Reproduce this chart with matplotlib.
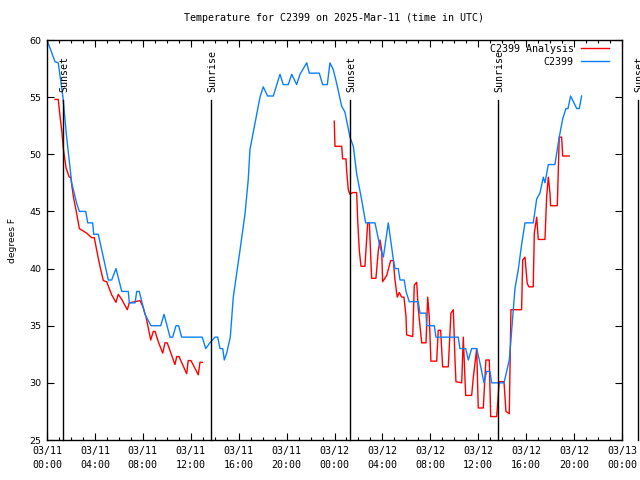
import numpy as np
import matplotlib
matplotlib.use("Agg")
import matplotlib.pyplot as plt

# hours since 2025-03-11 00:00 UTC
obs_hours = [0.0, 0.67, 0.94, 1.31, 1.64, 2.06, 2.48, 2.70, 3.23, 3.40, 3.81, 3.90, 4.28,
             4.70, 5.12, 5.40, 5.76, 6.24, 6.79, 6.87, 7.35, 7.49, 7.70, 8.18, 8.68, 9.49,
             9.77, 10.27, 10.49, 10.77, 10.99, 11.24, 12.96, 13.25, 13.60, 14.02, 14.25,
             14.44, 14.67, 14.80, 15.0, 15.30, 15.55, 16.11, 16.53, 16.80, 16.94, 17.36,
             17.78, 18.05, 18.42, 18.89, 19.45, 19.72, 20.14, 20.43, 20.84, 21.12, 21.68,
             21.90, 22.73, 23.01, 23.40, 23.62, 23.90, 24.18, 24.60, 24.87, 25.29, 25.57,
             25.85, 26.27, 26.60, 27.38, 27.80, 28.08, 28.49, 28.91, 29.05, 29.32, 29.47,
             29.82, 29.97, 30.24, 30.99, 31.14, 31.64, 31.69, 32.33, 32.47, 34.33, 34.47,
             34.95, 35.17, 35.45, 35.87, 36.09, 36.48, 36.70, 36.98, 37.12, 38.15, 38.37,
             38.59, 38.79, 39.07, 39.34, 39.62, 39.90, 40.59, 40.88, 41.15, 41.43, 41.57,
             41.85, 42.40, 42.76, 43.05, 43.32, 43.49, 43.71, 44.22, 44.43, 44.63]
obs_temp = [60.0, 58.1, 58.0, 55.2, 51.5, 47.5, 45.7, 45.0, 45.0, 44.0, 44.0, 43.0, 43.0,
            41.0, 39.0, 39.0, 40.0, 38.0, 38.0, 37.0, 37.0, 38.0, 38.0, 36.0, 35.0, 35.0,
            36.0, 34.0, 34.0, 35.0, 35.0, 34.0, 34.0, 33.0, 33.5, 34.0, 34.0,
            33.0, 33.0, 32.0, 32.6, 34.0, 37.5, 41.6, 44.8, 47.8, 50.4, 52.7,
            55.0, 55.9, 55.1, 55.1, 57.0, 56.1, 56.1, 57.0, 56.1, 57.0, 58.0,
            57.1, 57.1, 56.1, 56.1, 58.0, 57.4, 56.2, 54.2, 53.7, 51.5, 50.7,
            48.3, 46.0, 44.0, 44.0, 41.9, 41.0, 44.0, 40.8, 40.0, 40.0, 39.0,
            39.0, 38.0, 37.1, 37.1, 36.1, 36.1, 35.0, 35.0, 34.0, 34.0, 33.0,
            33.0, 32.0, 33.0, 33.0, 32.0, 30.0, 31.0, 31.0, 30.0, 30.0, 31.0,
            32.0, 34.6, 38.3, 39.9, 42.1, 44.0, 44.0, 46.1, 46.6, 48.0, 47.5,
            49.1, 49.1, 51.5, 53.1, 54.0, 54.0, 55.1, 54.0, 54.0, 55.1]

ana_hours = [0.67, 0.94, 1.09, 1.23, 1.36, 1.59, 1.86, 1.98, 2.20, 2.48, 2.70, 3.31, 3.73,
             3.95, 4.15, 4.42, 4.70, 4.98, 5.40, 5.76, 5.95, 6.24, 6.70, 6.87, 7.35, 7.76,
             7.99, 8.26, 8.66, 8.87, 9.02, 9.29, 9.66, 9.85, 10.04, 10.68, 10.83, 11.02,
             11.66, 11.79, 12.02, 12.63, 12.77, 12.96, 18.0,
             23.98, 24.04, 24.60, 24.68, 24.96, 25.02, 25.15, 25.29, 25.52, 25.85, 25.94,
             26.07, 26.21, 26.54, 26.77, 26.91, 27.10, 27.46, 27.66, 27.80, 27.94, 28.02,
             28.36, 28.49, 28.69, 28.91, 29.05, 29.24, 29.41, 29.61, 29.80, 29.97, 30.02,
             30.53, 30.66, 30.86, 30.99, 31.28, 31.64, 31.69, 31.78, 31.91, 32.05, 32.53,
             32.66, 32.86, 33.03, 33.50, 33.72, 33.92, 34.06, 34.14, 34.62, 34.75, 34.95,
             35.45, 35.58, 35.87, 36.00, 36.42, 36.64, 36.92, 37.04, 37.54, 37.75, 38.15,
             38.31, 38.59, 38.73, 39.62, 39.71, 39.90, 40.09, 40.23, 40.59, 40.68, 40.88,
             41.01, 41.57, 41.71, 41.85, 41.99, 42.04, 42.60, 42.68, 42.76, 42.96, 43.05,
             43.60]
ana_temp = [54.8, 54.8, 53.3, 52.1, 50.5, 48.8, 48.0, 48.0, 46.3, 44.8, 43.5, 43.1, 42.7,
            42.7, 41.6, 40.2, 38.95, 38.85, 37.7, 37.05, 37.75, 37.3, 36.4, 37.0, 37.1, 37.2,
            36.7, 35.8, 33.75, 34.5, 34.5, 33.6, 32.6, 33.5, 33.5, 31.6, 32.3, 32.3,
            30.8, 31.95, 31.95, 30.7, 31.8, 31.8, np.nan,
            52.9, 50.7, 50.7, 49.6, 49.6, 48.5, 46.9, 46.5, 46.65, 46.65, 44.1,
            41.6, 40.2, 40.2, 44.0, 44.0, 39.15, 39.15, 41.6, 42.5, 41.6, 38.85,
            39.4, 39.9, 40.7, 40.7, 39.0, 37.5, 37.9, 37.5, 37.5, 35.8, 34.2,
            34.05, 38.55, 38.8, 36.5, 33.5, 33.5, 35.05, 37.5, 35.8, 31.9, 31.9,
            34.6, 34.6, 31.4, 31.4, 36.1, 36.4, 32.0, 30.1, 30.0, 34.0, 28.9,
            28.9, 30.4, 33.0, 27.8, 27.8, 32.0, 32.0, 27.05, 27.05, 30.1, 30.1,
            27.5, 27.3, 36.4, 36.4, 40.75, 41.0, 38.7, 38.4, 38.4, 43.1, 44.5,
            42.55, 42.55, 46.3, 48.0, 46.6, 45.5, 45.5, 48.5, 51.5, 51.5, 49.85,
            49.85]

sun_hours = [1.34, 13.70, 25.30, 37.65, 49.33]
sun_labels = ["Sunset", "Sunrise", "Sunset", "Sunrise", "Sunset"]

tick_hours = list(range(0, 49, 4))
tick_labels = ["03/11\n00:00", "03/11\n04:00", "03/11\n08:00", "03/11\n12:00",
               "03/11\n16:00", "03/11\n20:00", "03/12\n00:00", "03/12\n04:00",
               "03/12\n08:00", "03/12\n12:00", "03/12\n16:00", "03/12\n20:00",
               "03/13\n00:00"]

plt.rcParams["font.family"] = ["DejaVu Sans Mono"]
plt.rcParams["font.size"] = 7.2

fig = plt.figure(figsize=(6.4, 4.8), dpi=100)
ax = fig.add_axes([47 / 640, 40 / 480, 575 / 640, 400 / 480])

ax.plot(ana_hours, ana_temp, color="#ff0000", linewidth=1.0, label="C2399 Analysis")
ax.plot(obs_hours, obs_temp, color="#0a80ff", linewidth=1.0, label="C2399")

for h, lab in zip(sun_hours, sun_labels):
    ax.plot([h, h], [25, 54.75], color="black", linewidth=1.0, clip_on=False)
    ax.text(h + 0.1, 55.45, lab, rotation=90, ha="center", va="bottom",
            clip_on=False)

ax.set_xlim(0, 48)
ax.set_ylim(25, 60)
ax.set_xticks(tick_hours)
ax.set_xticklabels(tick_labels, linespacing=1.6)
ax.set_xticks(range(0, 49), minor=True)
ax.set_yticks(range(25, 61, 5))
for lab in ax.get_yticklabels():
    lab.set_fontfamily("DejaVu Sans")
    lab.set_fontsize(6.8)
ax.tick_params(which="both", direction="in", top=True, right=True, width=0.8)
ax.tick_params(which="major", length=5, pad=4)
ax.tick_params(which="minor", length=2.5)
for s in ax.spines.values():
    s.set_linewidth(1.0)

ax.set_ylabel("degrees F", labelpad=9, fontfamily="DejaVu Sans", fontsize=6.6)
ax.set_title("Temperature for C2399 on 2025-Mar-11 (time in UTC)", fontsize=7.2, pad=14)

ax.legend(loc="upper right", bbox_to_anchor=(0.984, 1.0), frameon=False,
          markerfirst=False, handlelength=2.8, borderaxespad=0.0, borderpad=0.4,
          labelspacing=0.3, handletextpad=0.7)

fig.savefig("out.png", dpi=100)
